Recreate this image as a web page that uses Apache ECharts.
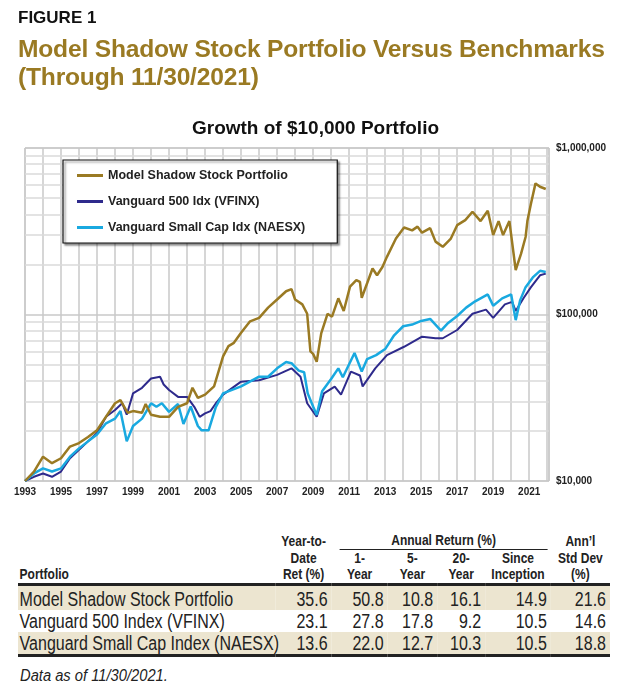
<!DOCTYPE html>
<html>
<head>
<meta charset="utf-8">
<script src="https://cdn.jsdelivr.net/npm/echarts@6/dist/echarts.min.js"></script>
<style>
  body { margin: 0; background: #fff; font-family: "Liberation Sans", Arial, sans-serif; }
  #wrap { position: relative; width: 631px; height: 700px; overflow: hidden; }
  #chart { position: absolute; left: 0; top: 0; width: 631px; height: 520px; }
  .fig { position: absolute; left: 18px; top: 8px; font-weight: bold; font-size: 17px; color: #111; }
  .ttl { position: absolute; left: 18px; top: 35px; font-weight: bold; font-size: 24.6px; line-height: 28px; color: #9a7a23; letter-spacing: -0.2px; }
  #tbl { position: absolute; left: 18px; top: 532px; width: 740px; border-collapse: collapse; table-layout: fixed;
         transform: scaleX(0.8); transform-origin: 0 0; color: #222; }
  #tbl th { font-size: 15px; font-weight: bold; line-height: 16.5px; padding: 0; vertical-align: bottom; text-align: center; }
  #tbl td { font-size: 20px; line-height: 22px; padding: 0 5px 0 0; text-align: right; white-space: nowrap; }
  #tbl td:first-child { text-align: left; padding-left: 2px; }
  #tbl tr.shade td { background: #ece5d0; }
  #tbl tr.first td { border-top: 3px solid #222; padding-top: 2px; }
  #tbl tr.last td { border-bottom: 3px solid #222; }
  .note { position: absolute; left: 20px; top: 667px; font-style: italic; font-size: 16px; color: #222;
          transform: scaleX(0.92); transform-origin: 0 0; }
</style>
</head>
<body>
<div id="wrap">
  <div id="chart"></div>
  <div class="fig">FIGURE 1</div>
  <div class="ttl">Model Shadow Stock Portfolio Versus Benchmarks<br>(Through 11/30/2021)</div>
  <table id="tbl"></table>
  <div class="note">Data as of 11/30/2021.</div>
</div>
<script>
// --- data ---
const seriesNames = ['Model Shadow Stock Portfolio', 'Vanguard 500 Idx (VFINX)', 'Vanguard Small Cap Idx (NAESX)'];

const shadow = [
  [1993, 10000], [1993.5, 11400], [1994, 14000], [1994.5, 12800], [1995, 13700], [1995.5, 16100],
  [1996, 16900], [1996.5, 18400], [1997, 20200], [1997.5, 24300], [1998, 29300], [1998.3, 30600],
  [1998.7, 25700], [1999, 26300], [1999.5, 25700], [1999.7, 29000], [2000, 25000], [2000.5, 24300],
  [2001, 24300], [2001.5, 27900], [2002, 29300], [2002.3, 36300], [2002.6, 31600], [2003, 33000],
  [2003.5, 37000], [2004, 56000], [2004.3, 64600], [2004.6, 67600], [2005, 77600], [2005.5, 91000],
  [2006, 95500], [2006.5, 110000], [2007, 123000], [2007.5, 138000], [2007.8, 142000], [2008, 123000],
  [2008.4, 115000], [2008.67, 101000], [2008.85, 60000], [2009, 58000], [2009.2, 52000],
  [2009.45, 77000], [2009.8, 101000], [2010.05, 97000], [2010.4, 125000], [2010.7, 105000],
  [2011.05, 147000], [2011.4, 161000], [2011.6, 157000], [2011.7, 126000], [2012, 154000],
  [2012.3, 189000], [2012.55, 172000], [2012.85, 193000], [2013.1, 222000], [2013.6, 286000],
  [2014.05, 333000], [2014.5, 320000], [2014.8, 337000], [2015.05, 310000], [2015.5, 330000],
  [2015.8, 274000], [2016.2, 255000], [2016.65, 286000], [2017, 344000], [2017.45, 369000],
  [2017.85, 414000], [2018.3, 364000], [2018.7, 420000], [2019, 300000], [2019.3, 364000],
  [2019.55, 300000], [2019.9, 364000], [2020.25, 185000], [2020.55, 232000], [2020.8, 292000],
  [2020.9, 364000], [2021.1, 464000], [2021.35, 613000], [2021.6, 585000], [2021.92, 567000]
];

const vfinx = [
  [1993, 10000], [1993.5, 10600], [1994, 11100], [1994.5, 10600], [1995, 11400], [1995.5, 13700],
  [1996, 15400], [1996.5, 17300], [1997, 19400], [1997.5, 24300], [1998, 26700], [1998.4, 29300],
  [1998.65, 25000], [1999, 33600], [1999.5, 36300], [2000, 41300], [2000.5, 42300], [2000.7, 38000],
  [2001, 35200], [2001.5, 32000], [2002, 32000], [2002.4, 27900], [2002.7, 24300], [2003, 25500],
  [2003.3, 26300], [2003.6, 29300], [2004, 33000], [2005, 39500], [2006, 40300], [2007, 43400],
  [2007.8, 47500], [2008.3, 42300], [2008.67, 29300], [2009.2, 24300], [2009.6, 33600],
  [2010.2, 36900], [2010.55, 33000], [2011.1, 45400], [2011.6, 43000], [2011.75, 37000],
  [2012.45, 47500], [2013.1, 57000], [2014.05, 64000], [2015.05, 73600], [2015.8, 72000],
  [2016.2, 72000], [2017, 80700], [2017.85, 101000], [2018.6, 107000], [2019, 95500],
  [2019.65, 115000], [2020.05, 119000], [2020.25, 105000], [2020.7, 126000], [2021.1, 146000],
  [2021.6, 172000], [2021.92, 176000]
];

const naesx = [
  [1993, 10000], [1993.5, 11100], [1994, 11900], [1994.5, 11400], [1995, 11900], [1995.5, 14000],
  [1996, 15700], [1996.5, 17300], [1997, 19000], [1997.5, 22200], [1998, 23700], [1998.3, 26300],
  [1998.65, 17300], [1999, 21400], [1999.5, 23700], [2000, 29300], [2000.3, 27900], [2000.6, 29300],
  [2001, 26000], [2001.5, 29000], [2001.8, 22000], [2002.2, 28000], [2002.6, 21400], [2002.8, 20200],
  [2003.2, 20200], [2003.6, 27900], [2004, 33600], [2005, 37000], [2006, 42300], [2006.5, 42300],
  [2007, 47500], [2007.5, 51900], [2007.8, 51000], [2008.2, 46000], [2008.5, 45000], [2008.7, 33600],
  [2009, 28000], [2009.2, 24900], [2009.5, 34600], [2010, 41000], [2010.4, 47500], [2010.65, 42000],
  [2011.3, 58700], [2011.7, 45500], [2012, 54000], [2012.5, 57000], [2013, 62000], [2013.5, 75000],
  [2014, 85000], [2014.5, 87000], [2015, 91500], [2015.5, 94000], [2016.1, 80000], [2016.5, 89000],
  [2017, 98000], [2017.5, 110000], [2018, 120000], [2018.7, 132000], [2019, 113000], [2019.5, 125000],
  [2020, 132000], [2020.25, 92500], [2020.5, 122000], [2020.8, 146000], [2021.2, 167000],
  [2021.6, 183000], [2021.92, 180000]
];

const minorGrid = [20000, 30000, 40000, 50000, 60000, 70000, 80000, 90000,
  200000, 300000, 400000, 500000, 600000, 700000, 800000, 900000];

const tableRows = [
  ['Model Shadow Stock Portfolio', '35.6', '50.8', '10.8', '16.1', '14.9', '21.6'],
  ['Vanguard 500 Index (VFINX)', '23.1', '27.8', '17.8', '9.2', '10.5', '14.6'],
  ['Vanguard Small Cap Index (NAESX)', '13.6', '22.0', '12.7', '10.3', '10.5', '18.8']
];

// --- table ---
const tbl = document.getElementById('tbl');
const widths = [322, 70, 70, 62, 60, 82, 74];
let html = '<colgroup>' + widths.map(w => `<col style="width:${w}px">`).join('') + '</colgroup>';
html += '<tr><th></th><th>Year-to-</th><th colspan="4"><span style="display:block;border-bottom:1.5px solid #222;margin:0 4px 0 10px;">Annual Return (%)</span></th><th>Ann\u2019l</th></tr>';
html += '<tr><th rowspan="2" style="text-align:left;padding-left:2px;">Portfolio</th><th>Date</th><th>1-</th><th>5-</th><th>20-</th><th>Since</th><th>Std Dev</th></tr>';
html += '<tr><th>Ret (%)</th><th>Year</th><th>Year</th><th>Year</th><th>Inception</th><th>(%)</th></tr>';
tableRows.forEach((r, i) => {
  const cls = [i !== 1 ? 'shade' : '', i === 0 ? 'first' : '', i === tableRows.length - 1 ? 'last' : ''].join(' ');
  html += `<tr class="${cls}">` + r.map(c => '<td>' + c + '</td>').join('') + '</tr>';
});
tbl.innerHTML = html;

// --- chart ---
const chart = echarts.init(document.getElementById('chart'));
const colors = ['#9a7a23', '#2e2a8c', '#19a9e0'];
chart.setOption({
  animation: false,
  title: {
    text: 'Growth of $10,000 Portfolio', left: 'center', top: 114,
    textStyle: { fontSize: 19, fontWeight: 'bold', color: '#111', fontFamily: 'Liberation Sans' }
  },
  legend: {
    data: seriesNames, orient: 'vertical', left: 63, top: 160, z: 50, zlevel: 1,
    backgroundColor: '#fff', borderColor: '#111', borderWidth: 1.2,
    shadowColor: 'rgba(0,0,0,0.45)', shadowOffsetX: 2, shadowOffsetY: 2, shadowBlur: 2,
    padding: [9, 32, 9, 14], itemGap: 13, itemWidth: 26, itemHeight: 3, icon: 'rect',
    textStyle: { fontSize: 12.5, fontWeight: 'bold', color: '#222', fontFamily: 'Liberation Sans' }
  },
  grid: { left: 25, right: 82, top: 148, height: 333, show: true, borderColor: '#bbb', borderWidth: 1 },
  xAxis: {
    type: 'value', min: 1993, max: 2022.1, interval: 1,
    axisLine: { show: false }, axisTick: { show: false },
    splitLine: { lineStyle: { color: '#c8c8c8', width: 1.5 } },
    axisLabel: {
      showMaxLabel: false, margin: 6, fontSize: 10, fontWeight: 'bold', color: '#222', fontFamily: 'Liberation Sans',
      formatter: v => (v % 2 === 1 ? String(v) : '')
    }
  },
  yAxis: {
    type: 'log', logBase: 10, min: 10000, max: 1000000, position: 'right',
    axisLine: { show: false }, axisTick: { show: false },
    splitLine: { lineStyle: { color: '#c8c8c8', width: 1.5 } },
    axisLabel: {
      margin: 7, fontSize: 10, fontWeight: 'bold', color: '#222', fontFamily: 'Liberation Sans',
      formatter: v => '$' + Math.round(v).toLocaleString('en-US')
    }
  },
  series: [
    {
      name: seriesNames[1], type: 'line', data: vfinx, showSymbol: false, symbol: 'none', z: 2,
      lineStyle: { color: colors[1], width: 2 }, itemStyle: { color: colors[1] },
      markLine: {
        silent: true, symbol: 'none', label: { show: false }, z: 1,
        lineStyle: { color: '#dadada', width: 1.5, type: 'solid' },
        data: minorGrid.map(v => ({ yAxis: v }))
      }
    },
    {
      name: seriesNames[2], type: 'line', data: naesx, showSymbol: false, symbol: 'none', z: 3,
      lineStyle: { color: colors[2], width: 2.5 }, itemStyle: { color: colors[2] }
    },
    {
      name: seriesNames[0], type: 'line', data: shadow, showSymbol: false, symbol: 'none', z: 4,
      lineStyle: { color: colors[0], width: 2.5 }, itemStyle: { color: colors[0] }
    }
  ]
});
</script>
</body>
</html>
